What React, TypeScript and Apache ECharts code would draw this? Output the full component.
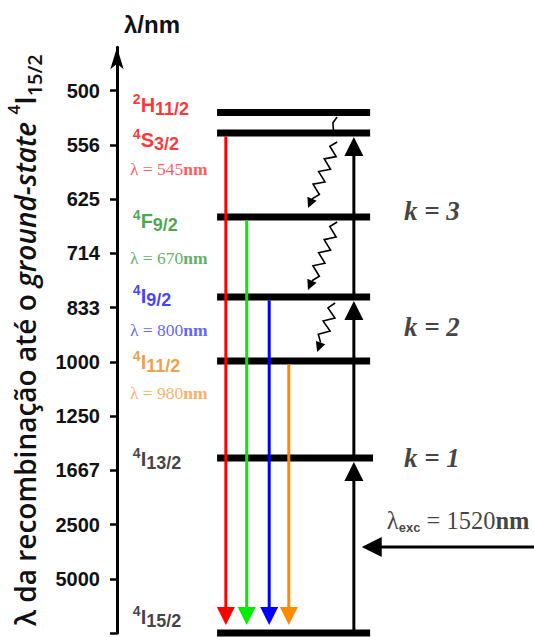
import React, { useEffect, useRef } from "react";
import * as echarts from "echarts";

// ---------- data ----------
// Er3+ energy levels (cm^-1)
const levelSup = ["2", "4", "4", "4", "4", "4", "4"];
const levelTerm = ["H", "S", "F", "I", "I", "I", "I"];
const levelSub = ["11/2", "3/2", "9/2", "9/2", "11/2", "13/2", "15/2"];
const levelEnergy = [19200, 18440, 15340, 12390, 10030, 6450, 0];

// axis ticks: energy (cm^-1) and the matching wavelength label (nm)
const tickEnergy = [0, 2000, 4000, 6000, 8000, 10000, 12000, 14000, 16000, 18000, 20000];
const tickLabel = ["", "5000", "2500", "1667", "1250", "1000", "833", "714", "625", "556", "500"];

// radiative emissions to the ground state
const emissionFrom = [18440, 15340, 12390, 10030];
const emissionTo = [0, 0, 0, 0];
const emissionWavelength = [545, 670, 800, 980];

// sequential excitation steps (k photons)
const excitationFrom = [0, 6450, 12390];
const excitationTo = [6450, 12390, 18440];
const kName = ["k = 1", "k = 2", "k = 3"];
const kEnergy = [6450, 11285, 15560];

// non-radiative relaxations
const relaxFrom = [19030, 18108, 15158, 12170];
const relaxTo = [18550, 15674, 12650, 10363];
const relaxHead = [0, 1, 1, 1];

// pump
const pumpWavelength = 1520;
const pumpEnergy = 3170;

// ---------- layout / style (diagram x units 0..100 on a hidden axis) ----------
const X = {
  levelStart: 24,
  levelEnd: 60.7,
  emission: [26.1, 31.1, 36.5, 41.2],
  excitation: 56.8,
  relaxStart: [52.8, 52.8, 52.8, 52.3],
  relaxEnd: [51.9, 45.8, 45.8, 48.0],
  stateLabel: 3.8,
  lambdaLabel: 3.1,
  kLabel: 68.8,
  pumpStart: 100,
  pumpEnd: 58.7,
  pumpLabel: 64.7,
};
const emissionColor = ["#ff0000", "#00ee00", "#0000ff", "#ff8a00"];
const stateColor = ["#ff0000", "#ff0000", "#1f8f1f", "#1010ff", "#e8891a", "#111111", "#111111"];
const lambdaColor = ["#ff3030", "#3a9a3a", "#3a3aff", "#ff9a3a"];
const stateDy = [-7, 7, 4, -1, 1, 1, -16];
const lambdaDy = [36, 41, 33, 32];

const SANS = "'Liberation Sans', Arial, sans-serif";
const SERIF = "'Liberation Serif', 'Times New Roman', serif";
const NAMEF = "'Open Sans', 'Noto Sans', sans-serif";

const tri = (pts: number[][], fill: string) => ({
  type: "polygon",
  shape: { points: pts },
  style: { fill },
});

const option: any = {
  animation: false,
  backgroundColor: "#fff",
  grid: { left: 117, right: 0, top: 47.3, bottom: 4, containLabel: false, outerBoundsMode: "none" },
  xAxis: { type: "value", min: 0, max: 100, show: false },
  yAxis: {
    type: "value",
    min: 0,
    max: 21600,
    splitLine: { show: false },
    axisLine: {
      show: true,
      symbol: ["none", "arrow"],
      symbolSize: [10, 22],
      lineStyle: { color: "#000", width: 3 },
    },
    axisTick: {
      show: true,
      customValues: tickEnergy,
      length: 7,
      lineStyle: { color: "#000", width: 2.5 },
    },
    axisLabel: {
      customValues: tickEnergy,
      formatter: (v: number) => {
        const i = tickEnergy.indexOf(v);
        return i >= 0 ? tickLabel[i] : "";
      },
      fontFamily: SANS,
      fontWeight: "bold",
      fontSize: 20,
      color: "#111",
      margin: 17,
    },
    name: "{n|λ da recombinação até o }{i|ground-state}{n| }{sup|4}{n|I}{sub|15/2}",
    nameLocation: "middle",
    nameRotate: 90,
    nameGap: 72,
    nameTextStyle: {
      rich: {
        n: { fontFamily: NAMEF, fontSize: 28, fontWeight: 600, color: "#111", lineHeight: 40 },
        i: { fontFamily: NAMEF, fontSize: 28, fontWeight: 600, fontStyle: "italic", color: "#111", lineHeight: 40 },
        sup: { fontFamily: NAMEF, fontSize: 17, fontWeight: 600, color: "#111", lineHeight: 4, verticalAlign: "top" },
        sub: { fontFamily: NAMEF, fontSize: 20, fontWeight: 600, color: "#111", lineHeight: 16, verticalAlign: "bottom" },
      },
    },
  },
  graphic: [
    {
      type: "text",
      x: 124,
      y: 12,
      style: { text: "λ/nm", font: `bold 24px ${SANS}`, fill: "#111" },
    },
  ],
  series: [
    // energy levels
    {
      type: "custom",
      silent: true,
      z: 2,
      data: levelEnergy.map((e, i) => [X.levelStart, e, i === 5 ? X.levelEnd + 0.7 : X.levelEnd]),
      encode: { x: [0, 2], y: 1 },
      renderItem: (_p: any, api: any) => {
        const a = api.coord([api.value(0), api.value(1)]);
        const b = api.coord([api.value(2), api.value(1)]);
        return {
          type: "rect",
          shape: { x: a[0], y: a[1] - 3.5, width: b[0] - a[0], height: 7 },
          style: { fill: "#000" },
        };
      },
    },
    // emissions
    {
      type: "custom",
      silent: true,
      z: 3,
      data: emissionFrom.map((e, i) => [X.emission[i], e, emissionTo[i]]),
      encode: { x: 0, y: [1, 2] },
      renderItem: (p: any, api: any) => {
        const c = emissionColor[p.dataIndex];
        const a = api.coord([api.value(0), api.value(1)]);
        const b = api.coord([api.value(0), api.value(2)]);
        const tip = b[1] - 8;
        const hh = 18;
        const hw = 9;
        return {
          type: "group",
          children: [
            {
              type: "line",
              shape: { x1: a[0], y1: a[1] + 3.5, x2: a[0], y2: tip - hh + 2 },
              style: { stroke: c, lineWidth: 3 },
            },
            tri([[a[0] - hw, tip - hh], [a[0] + hw, tip - hh], [a[0], tip]], c),
          ],
        };
      },
    },
    // excitation
    {
      type: "custom",
      silent: true,
      z: 3,
      data: excitationFrom.map((e, i) => [X.excitation, e, excitationTo[i]]),
      encode: { x: 0, y: [1, 2] },
      renderItem: (_p: any, api: any) => {
        const a = api.coord([api.value(0), api.value(1)]);
        const b = api.coord([api.value(0), api.value(2)]);
        const tip = b[1] + 4;
        const hh = 19;
        const hw = 9.5;
        return {
          type: "group",
          children: [
            {
              type: "line",
              shape: { x1: a[0], y1: a[1] - 3, x2: a[0], y2: tip + hh - 2 },
              style: { stroke: "#000", lineWidth: 3 },
            },
            tri([[a[0] - hw, tip + hh], [a[0] + hw, tip + hh], [a[0], tip]], "#000"),
          ],
        };
      },
    },
    // pump arrow
    {
      type: "custom",
      silent: true,
      z: 3,
      data: [[X.pumpStart, pumpEnergy, X.pumpEnd]],
      encode: { x: [0, 2], y: 1 },
      renderItem: (_p: any, api: any) => {
        const a = api.coord([api.value(0), api.value(1)]);
        const b = api.coord([api.value(2), api.value(1)]);
        const hl = 20;
        const hw = 10;
        return {
          type: "group",
          children: [
            {
              type: "line",
              shape: { x1: a[0] + 2, y1: a[1], x2: b[0] + hl - 2, y2: a[1] },
              style: { stroke: "#000", lineWidth: 3 },
            },
            tri([[b[0] + hl, a[1] - hw], [b[0] + hl, a[1] + hw], [b[0], a[1]]], "#000"),
          ],
        };
      },
    },
    // non-radiative relaxation (wavy arrows)
    {
      type: "custom",
      silent: true,
      z: 4,
      data: relaxFrom.map((e, i) => [X.relaxStart[i], e, X.relaxEnd[i], relaxTo[i], relaxHead[i]]),
      encode: { x: [0, 2], y: [1, 3] },
      renderItem: (_p: any, api: any) => {
        const p1 = api.coord([api.value(0), api.value(1)]);
        const p2 = api.coord([api.value(2), api.value(3)]);
        const dx = p2[0] - p1[0];
        const dy = p2[1] - p1[1];
        const len = Math.hypot(dx, dy);
        const ux = dx / len;
        const uy = dy / len;
        const nx = -uy;
        const ny = ux;
        const hasHead = api.value(4) > 0;
        const hl = hasHead ? 10 : 0;
        const body = len - hl;
        const n = Math.max(2, Math.round(body / 7));
        const amp = hasHead ? 5 : 2.5;
        const pts: number[][] = [[p1[0], p1[1]]];
        for (let k = 1; k < n; k++) {
          const t = (k / n) * body;
          const s = (k % 2 ? 1 : -1) * amp;
          pts.push([p1[0] + ux * t + nx * s, p1[1] + uy * t + ny * s]);
        }
        const be = [p1[0] + ux * body, p1[1] + uy * body];
        pts.push(be);
        const children: any[] = [
          { type: "polyline", shape: { points: pts }, style: { stroke: "#000", lineWidth: 1.6, fill: null } },
        ];
        if (hasHead) {
          children.push(
            tri(
              [
                [be[0] + nx * 5, be[1] + ny * 5],
                [be[0] - nx * 5, be[1] - ny * 5],
                [p2[0], p2[1]],
              ],
              "#000"
            )
          );
        }
        return { type: "group", children };
      },
    },
    // state labels
    {
      type: "scatter",
      silent: true,
      symbolSize: 0,
      z: 5,
      data: levelEnergy.map((e, i) => ({
        value: [X.stateLabel, e],
        label: {
          offset: [0, stateDy[i]],
          formatter: `{sup|${levelSup[i]}}{main|${levelTerm[i]}}{sub|${levelSub[i]}}`,
          rich: {
            sup: { fontFamily: SANS, fontWeight: "bold", fontSize: 14, color: stateColor[i], lineHeight: 6, verticalAlign: "top" },
            main: { fontFamily: SANS, fontWeight: "bold", fontSize: 20, color: stateColor[i], lineHeight: 26 },
            sub: { fontFamily: SANS, fontWeight: "bold", fontSize: 18, color: stateColor[i], lineHeight: 18, verticalAlign: "bottom" },
          },
        },
      })),
      label: { show: true, position: [0, 0], align: "left", verticalAlign: "middle" },
    },
    // emission wavelength labels
    {
      type: "scatter",
      silent: true,
      symbolSize: 0,
      z: 5,
      data: emissionFrom.map((e, i) => ({
        value: [X.lambdaLabel, e],
        label: {
          offset: [0, lambdaDy[i]],
          formatter: `{t|λ = ${emissionWavelength[i]}}{b|nm}`,
          rich: {
            t: { fontFamily: SERIF, fontSize: 17.5, color: lambdaColor[i] },
            b: { fontFamily: SERIF, fontSize: 17.5, fontWeight: "bold", color: lambdaColor[i] },
          },
        },
      })),
      label: { show: true, position: [0, 0], align: "left", verticalAlign: "middle" },
    },
    // k labels
    {
      type: "scatter",
      silent: true,
      symbolSize: 0,
      z: 5,
      data: kEnergy.map((e, i) => ({ value: [X.kLabel, e], name: kName[i] })),
      label: {
        show: true,
        position: [0, 0],
        align: "left",
        verticalAlign: "middle",
        formatter: (p: any) => p.name,
        fontFamily: SERIF,
        fontStyle: "italic",
        fontWeight: "bold",
        fontSize: 27,
        color: "#111",
      },
    },
    // pump label
    {
      type: "scatter",
      silent: true,
      symbolSize: 0,
      z: 5,
      data: [{ value: [X.pumpLabel, pumpEnergy] }],
      label: {
        show: true,
        position: [0, 0],
        align: "left",
        verticalAlign: "middle",
        offset: [0, -27],
        formatter: `{t|λ}{e|exc}{t| = ${pumpWavelength}}{b|nm}`,
        rich: {
          t: { fontFamily: SERIF, fontSize: 24.5, color: "#111", lineHeight: 28 },
          e: { fontFamily: SANS, fontWeight: "bold", fontSize: 13, color: "#111", lineHeight: 12, verticalAlign: "bottom" },
          b: { fontFamily: SERIF, fontSize: 24.5, fontWeight: "bold", color: "#111", lineHeight: 28 },
        },
      },
    },
  ],
};

const App = () => {
  const ref = useRef<HTMLDivElement>(null);
  useEffect(() => {
    const chart = echarts.init(ref.current!, undefined, { renderer: "svg" });
    chart.setOption(option);
    return () => chart.dispose();
  }, []);
  return (
    <div
      ref={ref}
      style={{ position: "fixed", left: 0, top: 0, width: 534, height: 637, background: "#fff" }}
    />
  );
};

export default App;
